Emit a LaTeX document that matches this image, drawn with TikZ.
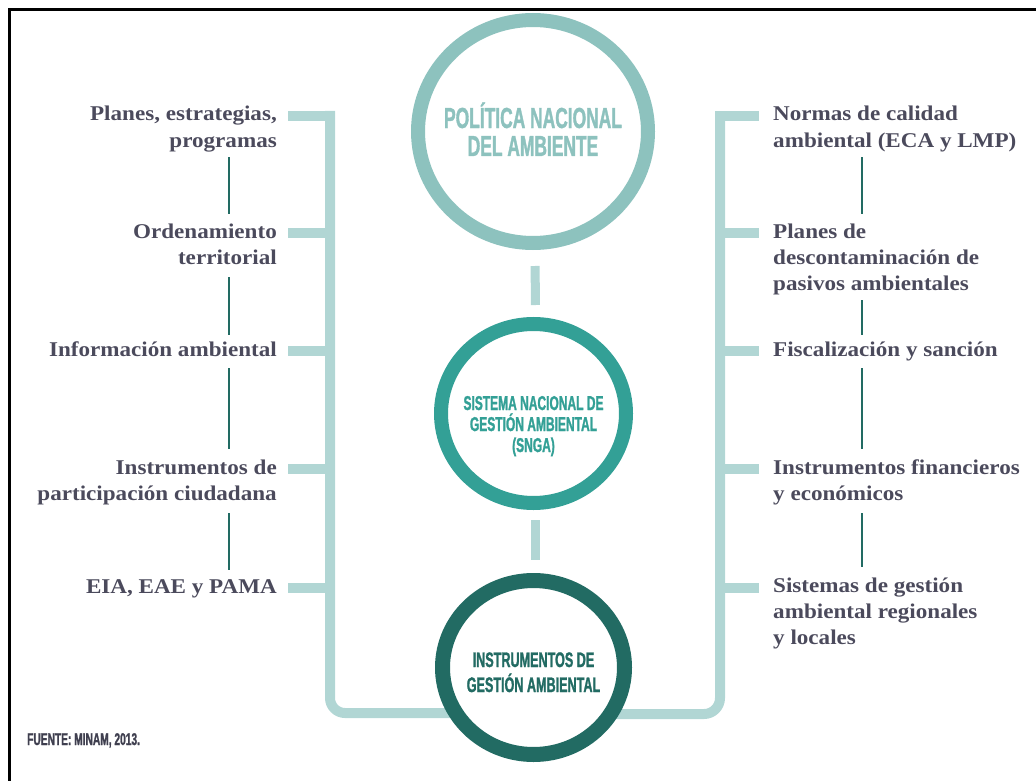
\documentclass[tikz,border=0pt]{standalone}
\usepackage{fontspec}
\setmainfont[FakeStretch=1.1]{Liberation Serif}
\newfontfamily\cond[FakeStretch=0.6,FakeBold=1.2]{Liberation Sans}
\usetikzlibrary{shapes.geometric,calc}
\definecolor{brk}{HTML}{B1D6D4}
\definecolor{cone}{HTML}{8DC2BE}
\definecolor{ctwo}{HTML}{33A096}
\definecolor{cthree}{HTML}{226B63}
\definecolor{lbl}{HTML}{4B4A5C}
\definecolor{src}{HTML}{3F3F4F}
\begin{document}
\begin{tikzpicture}[x=1pt,y=-1pt,
  brkline/.style={draw=brk, line width=10pt},
  tickline/.style={draw=brk, line width=10pt},
  linkbar/.style={draw=brk, line width=9pt},
  thinline/.style={draw=cthree, line width=1.3pt},
  ring/.style={ellipse, fill=white, inner sep=0pt},
  ctext/.style={align=center, inner sep=0pt, anchor=base, font=\cond\bfseries},
  lblL/.style={align=right, inner sep=0pt, anchor=base east, text=lbl, font=\bfseries\fontsize{21}{26}\selectfont},
  lblR/.style={align=left, inner sep=0pt, anchor=base west, text=lbl, font=\bfseries\fontsize{21}{26}\selectfont}]
\useasboundingbox (0,0) rectangle (1036,781);
% frame
\draw[line width=2.5pt] (9.7,781) -- (9.7,9.5) -- (1036,9.5);

% coordinates for the bracket ends and thin lines
\coordinate (lb) at (533.5,713);
\coordinate (rb) at (533.5,714);
\coordinate (xl) at (229,0);
\coordinate (xr) at (862,0);

% brackets
\draw[brkline, rounded corners=15pt] (330,111) |- (lb);
\draw[brkline, rounded corners=16pt] (720,112) |- (rb);
\foreach \y in {116,233,351,469,588} {
  \draw[tickline] (288,\y) -- (335,\y);
  \draw[tickline] (715,\y) -- (759,\y);
}

% circles
\node[ring, draw=cone, line width=14pt, minimum width=230pt, minimum height=223pt] (c1) at (533,131.5) {};
\node[ring, draw=ctwo, line width=14pt, minimum width=185pt, minimum height=179pt] (c2) at (533.5,413.5) {};
\node[ring, draw=cthree, line width=15pt, minimum width=182pt, minimum height=174pt] (c3) at (533.5,667.5) {};

\draw[linkbar, shorten <=16pt, shorten >=12pt] ([xshift=2pt]c1.south) -- ([xshift=2pt]c2.north);
\draw[linkbar, shorten <=10pt, shorten >=13pt] ([xshift=2pt]c2.south) -- ([xshift=2pt]c3.north);

% circle texts (base anchor = baseline of the last line)
\node[ctext, text=cone, font=\cond\bfseries\fontsize{29}{28}\selectfont] (t1) at (533,156) {POLÍTICA NACIONAL\\DEL AMBIENTE};
\node[ctext, text=ctwo, font=\cond\bfseries\fontsize{20}{21}\selectfont] (t2) at (533.5,452) {SISTEMA NACIONAL DE\\GESTIÓN AMBIENTAL\\(SNGA)};
\node[ctext, text=cthree, font=\cond\bfseries\fontsize{21}{25}\selectfont] (t3) at (533.5,692) {INSTRUMENTOS DE\\GESTIÓN AMBIENTAL};

% left labels
\node[lblL] (L1) at (277,147) {Planes, estrategias,\\programas};
\node[lblL] (L2) at (277,264) {Ordenamiento\\territorial};
\node[lblL] (L3) at (277,356) {Información ambiental};
\node[lblL] (L4) at (277,500) {Instrumentos de\\participación ciudadana};
\node[lblL] (L5) at (277,593) {EIA, EAE y PAMA};

% right labels
\node[lblR] (R1) at (773,147) {Normas de calidad\\ambiental (ECA y LMP)};
\node[lblR] (R2) at (773,290) {Planes de\\descontaminación de\\pasivos ambientales};
\node[lblR] (R3) at (773,356) {Fiscalización y sanción};
\node[lblR] (R4) at (773,500) {Instrumentos financieros\\y económicos};
\node[lblR] (R5) at (773,644) {Sistemas de gestión\\ambiental regionales\\y locales};

% thin connectors
\draw[thinline, shorten <=5.5pt, shorten >=9pt] (L1.south -| xl) -- (L2.north -| xl);
\draw[thinline, shorten <=13pt, shorten >=6.5pt] (L2.south -| xl) -- (L3.north -| xl);
\draw[thinline, shorten <=12pt, shorten >=10pt] (L3.south -| xl) -- (L4.north -| xl);
\draw[thinline, shorten <=8.4pt, shorten >=9pt] (L4.south -| xl) -- (L5.north -| xl);
\draw[thinline, shorten <=5.5pt, shorten >=9pt] (R1.south -| xr) -- (R2.north -| xr);
\draw[thinline, shorten <=5.5pt, shorten >=6.5pt] (R2.south -| xr) -- (R3.north -| xr);
\draw[thinline, shorten <=7.5pt, shorten >=10pt] (R3.south -| xr) -- (R4.north -| xr);
\draw[thinline, shorten <=8.5pt, shorten >=10pt] (R4.south -| xr) -- (R5.north -| xr);

% source
\node[anchor=base west, inner sep=0pt, text=src, font=\cond\bfseries\fontsize{17}{17}\selectfont] (fuente) at (27,745) {FUENTE: MINAM, 2013.};
\end{tikzpicture}
\end{document}
